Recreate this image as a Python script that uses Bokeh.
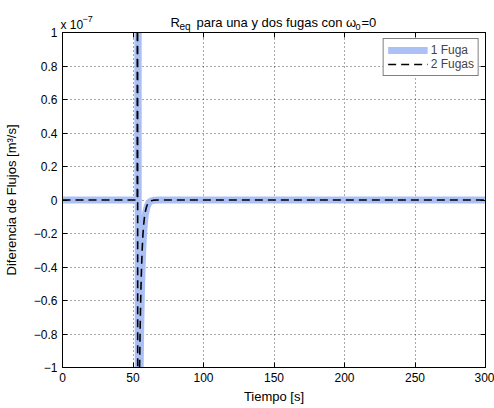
from bokeh.plotting import figure
from bokeh.models import Label, LinearAxis, FixedTicker, Range1d, Legend, LegendItem
from bokeh.embed import file_html
from bokeh.resources import INLINE

# ---------------- data (flow difference in units of 1e-7 m^3/s) ----------------
t_1fuga = [0, 53.4, 53.6, 53.8, 54.2, 54.6, 55.0, 55.5, 56.0, 56.5, 57.0, 57.5,
           58.0, 58.5, 59.0, 60.0, 61.0, 62.0, 63.0, 65.0, 68.0, 300]
dq_1fuga = [0, 0, 4.0, -4.0, -2.2, -1.45, -1.05, -0.75, -0.54, -0.39, -0.28, -0.20,
            -0.145, -0.105, -0.075, -0.04, -0.02, -0.01, -0.005, -0.001, 0, 0]

t_2fugas = [0, 53.0, 53.2, 53.4, 53.8, 54.2, 54.6, 55.1, 55.6, 56.1, 56.6, 57.1,
            57.6, 58.1, 58.6, 59.6, 60.6, 61.6, 62.6, 64.6, 67.6, 300]
dq_2fugas = [0, 0, 4.0, -4.0, -2.2, -1.45, -1.05, -0.75, -0.54, -0.39, -0.28, -0.20,
             -0.145, -0.105, -0.075, -0.04, -0.02, -0.01, -0.005, -0.001, 0, 0]

series_names = ["1 Fuga", "2 Fugas"]
x_ticks = [0, 50, 100, 150, 200, 250, 300]
y_ticks = [-1, -0.8, -0.6, -0.4, -0.2, 0, 0.2, 0.4, 0.6, 0.8, 1]
y_tick_labels = ["\u22121", "\u22120.8", "\u22120.6", "\u22120.4", "\u22120.2", "0",
                 "0.2", "0.4", "0.6", "0.8", "1"]

FONT = "Liberation Sans"
W, H = 494, 408
BL, BR, BT, BB = 60, 9, 32, 41
# the top border is made tall enough to hold the title labels' panel slots,
# and the surplus is hidden with a negative top margin
EXTRA = 68

p = figure(width=W, height=H + EXTRA, output_backend="svg", toolbar_location=None,
           x_range=Range1d(0, 300), y_range=Range1d(-1, 1),
           min_border_left=BL, min_border_right=BR, min_border_top=BT + EXTRA,
           min_border_bottom=BB, background_fill_color="white",
           border_fill_color="white", margin=(-EXTRA, 0, 0, 0))
p.outline_line_color = "black"
p.outline_line_width = 1

blue = "#abc0f5"
r1 = p.line(t_1fuga, dq_1fuga, line_color=blue, line_width=7, line_join="round")
r2 = p.line(t_2fugas, dq_2fugas, line_color="black", line_width=1.6,
            line_dash="8 5")

# axes
for ax in (p.xaxis[0], p.yaxis[0]):
    ax.axis_line_color = "black"
    ax.major_tick_line_color = "black"
    ax.major_tick_in = 5
    ax.major_tick_out = 0
    ax.minor_tick_line_color = None
    ax.major_label_text_font = FONT
    ax.major_label_text_font_size = "12px"
    ax.major_label_text_color = "black"
    ax.axis_label_text_font = FONT
    ax.axis_label_text_font_size = "13px"
    ax.axis_label_text_font_style = "normal"
    ax.axis_label_text_color = "black"

p.xaxis.ticker = FixedTicker(ticks=x_ticks)
p.yaxis.ticker = FixedTicker(ticks=y_ticks)
p.yaxis.major_label_overrides = {v: s for v, s in zip(y_ticks, y_tick_labels)}
p.xaxis.axis_label = "Tiempo [s]"
p.yaxis.axis_label = "Diferencia de Flujos [m\u00b3/s]"
p.xaxis.major_label_standoff = 5
p.xaxis.axis_label_standoff = 4
p.yaxis.major_label_standoff = 5
p.yaxis.axis_label_standoff = 12

# mirrored axes (top / right) with inward ticks, no labels
top_ax = LinearAxis(ticker=FixedTicker(ticks=x_ticks))
right_ax = LinearAxis(ticker=FixedTicker(ticks=y_ticks))
for ax in (top_ax, right_ax):
    ax.major_tick_in = 5
    ax.major_tick_out = 0
    ax.minor_tick_line_color = None
    ax.major_label_text_font_size = "0px"
    ax.major_label_standoff = 0
    ax.axis_line_color = "black"
    ax.major_tick_line_color = "black"
top_ax.major_label_overrides = {v: "" for v in x_ticks}
right_ax.major_label_overrides = {v: "" for v in y_ticks}
p.add_layout(top_ax, "above")
p.add_layout(right_ax, "right")

# dotted grid
for g in (p.xgrid[0], p.ygrid[0]):
    g.grid_line_color = "black"
    g.grid_line_alpha = 0.85
    g.grid_line_width = 0.8
    g.grid_line_dash = "1 3"

# legend
legend = Legend(items=[LegendItem(label=series_names[0], renderers=[r1]),
                       LegendItem(label=series_names[1], renderers=[r2])],
                location="top_right")
legend.border_line_color = "black"
legend.border_line_width = 1
legend.background_fill_color = "white"
legend.background_fill_alpha = 1
legend.label_text_font = FONT
legend.label_text_font_size = "12px"
legend.glyph_width = 40
legend.glyph_height = 12
legend.label_height = 12
legend.label_standoff = 3
legend.padding = 4
legend.spacing = 0
legend.margin = 6
p.add_layout(legend)


def add_text(text, cx, cy_baseline, size):
    """cx, cy_baseline: page pixels from top-left."""
    p.add_layout(Label(x=cx, y=cy_baseline + EXTRA, x_units="canvas",
                       y_units="canvas", text=text, text_font=FONT,
                       text_font_size=size, text_color="black",
                       text_align="left", text_baseline="alphabetic"), "above")


# title: R_eq para una y dos fugas con ω_0=0
add_text("R", 170, 22, "13px")
add_text("eq", 179, 26, "10px")
add_text("para una y dos fugas con \u03c9", 196, 22, "13px")
add_text("0", 355, 26, "9px")
add_text("=0", 361, 22, "13px")

# exponent marker x 10^-7
add_text("x 10", 60, 24, "12px")
add_text("\u22127", 82, 18, "9px")

open("out.html", "w").write(file_html(p, INLINE))
